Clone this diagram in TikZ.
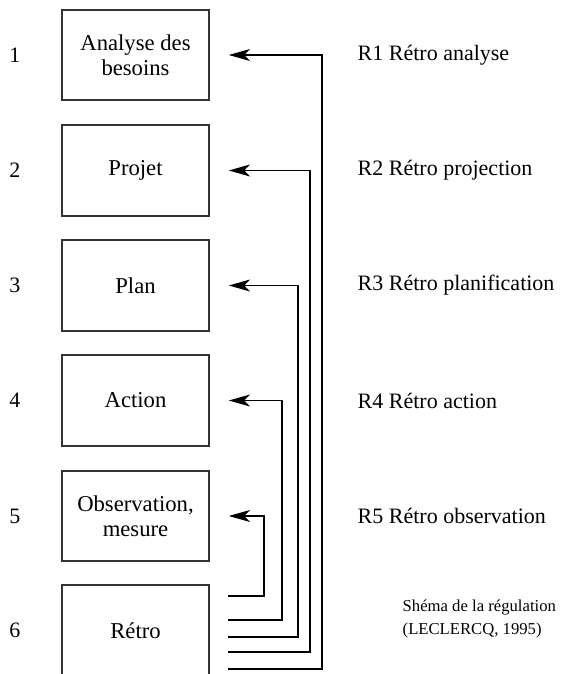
\documentclass[tikz,border=0pt]{standalone}
\usepackage{fontspec}
\setmainfont{Liberation Serif}
\usetikzlibrary{arrows.meta}

\tikzset{
  etape/.style={draw=black!80, line width=1.4pt, minimum width=110pt, minimum height=68pt,
    inner sep=0pt, align=center, font=\fontsize{17}{19}\selectfont},
  numero/.style={font=\fontsize{16.5}{19}\selectfont},
  retro/.style={anchor=west, font=\fontsize{16.5}{19}\selectfont},
  retour/.style={line width=0.9pt, -{Stealth[length=16pt,width=9pt,inset=4.5pt]}, shorten >=14.25pt}
}

\begin{document}
\begin{tikzpicture}[x=0.75pt,y=-0.75pt]
  \useasboundingbox (0,0) rectangle (563,674);
  \clip (0,0) rectangle (563,674);

      \draw (135.5,55) node[etape] (analyse) {Analyse des\\besoins};
      \draw (135.5,170.5) node[etape] (projet) {Projet};
      \draw (135.5,285.5) node[etape] (plan) {Plan};
      \draw (135.5,400.5) node[etape] (action) {Action};
      \draw (135.5,516) node[etape] (observation) {Observation,\\mesure};
      \draw (135.5,630.5) node[etape] (retro) {Rétro};

  \draw (15,55) node[numero] (n1) {1};
  \draw (15,170.5) node[numero] (n2) {2};
  \draw (15,285.5) node[numero] (n3) {3};
  \draw (15,400.5) node[numero] (n4) {4};
  \draw (15,516) node[numero] (n5) {5};
  \draw (15,630.5) node[numero] (n6) {6};

  \draw (353,55) node[retro] (r1) {R1 Rétro analyse};
  \draw (353,170.5) node[retro] (r2) {R2 Rétro projection};
  \draw (353,285.5) node[retro] (r3) {R3 Rétro planification};
  \draw (353,400.5) node[retro] (r4) {R4 Rétro action};
  \draw (353,516) node[retro] (r5) {R5 Rétro observation};

  \draw (398,619) node[anchor=west, align=left, font=\fontsize{12.5}{17.5}\selectfont] (legende)
    {Shéma de la régulation\\(LECLERCQ, 1995)};

  % departs sous Retro, montants
  \coordinate (d1) at (228,669);
  \coordinate (d2) at (228,652);
  \coordinate (d3) at (228,637);
  \coordinate (d4) at (228,620);
  \coordinate (d5) at (228,596);
  \coordinate (v1) at (322,0);
  \coordinate (v2) at (310,0);
  \coordinate (v3) at (298,0);
  \coordinate (v4) at (282,0);
  \coordinate (v5) at (264,0);

      \draw[retour] (d1) -| (v1 |- analyse.east) -- (analyse.east);
      \draw[retour] (d2) -| (v2 |- projet.east) -- (projet.east);
      \draw[retour] (d3) -| (v3 |- plan.east) -- (plan.east);
      \draw[retour] (d4) -| (v4 |- action.east) -- (action.east);
      \draw[retour] (d5) -| (v5 |- observation.east) -- (observation.east);
\end{tikzpicture}
\end{document}
